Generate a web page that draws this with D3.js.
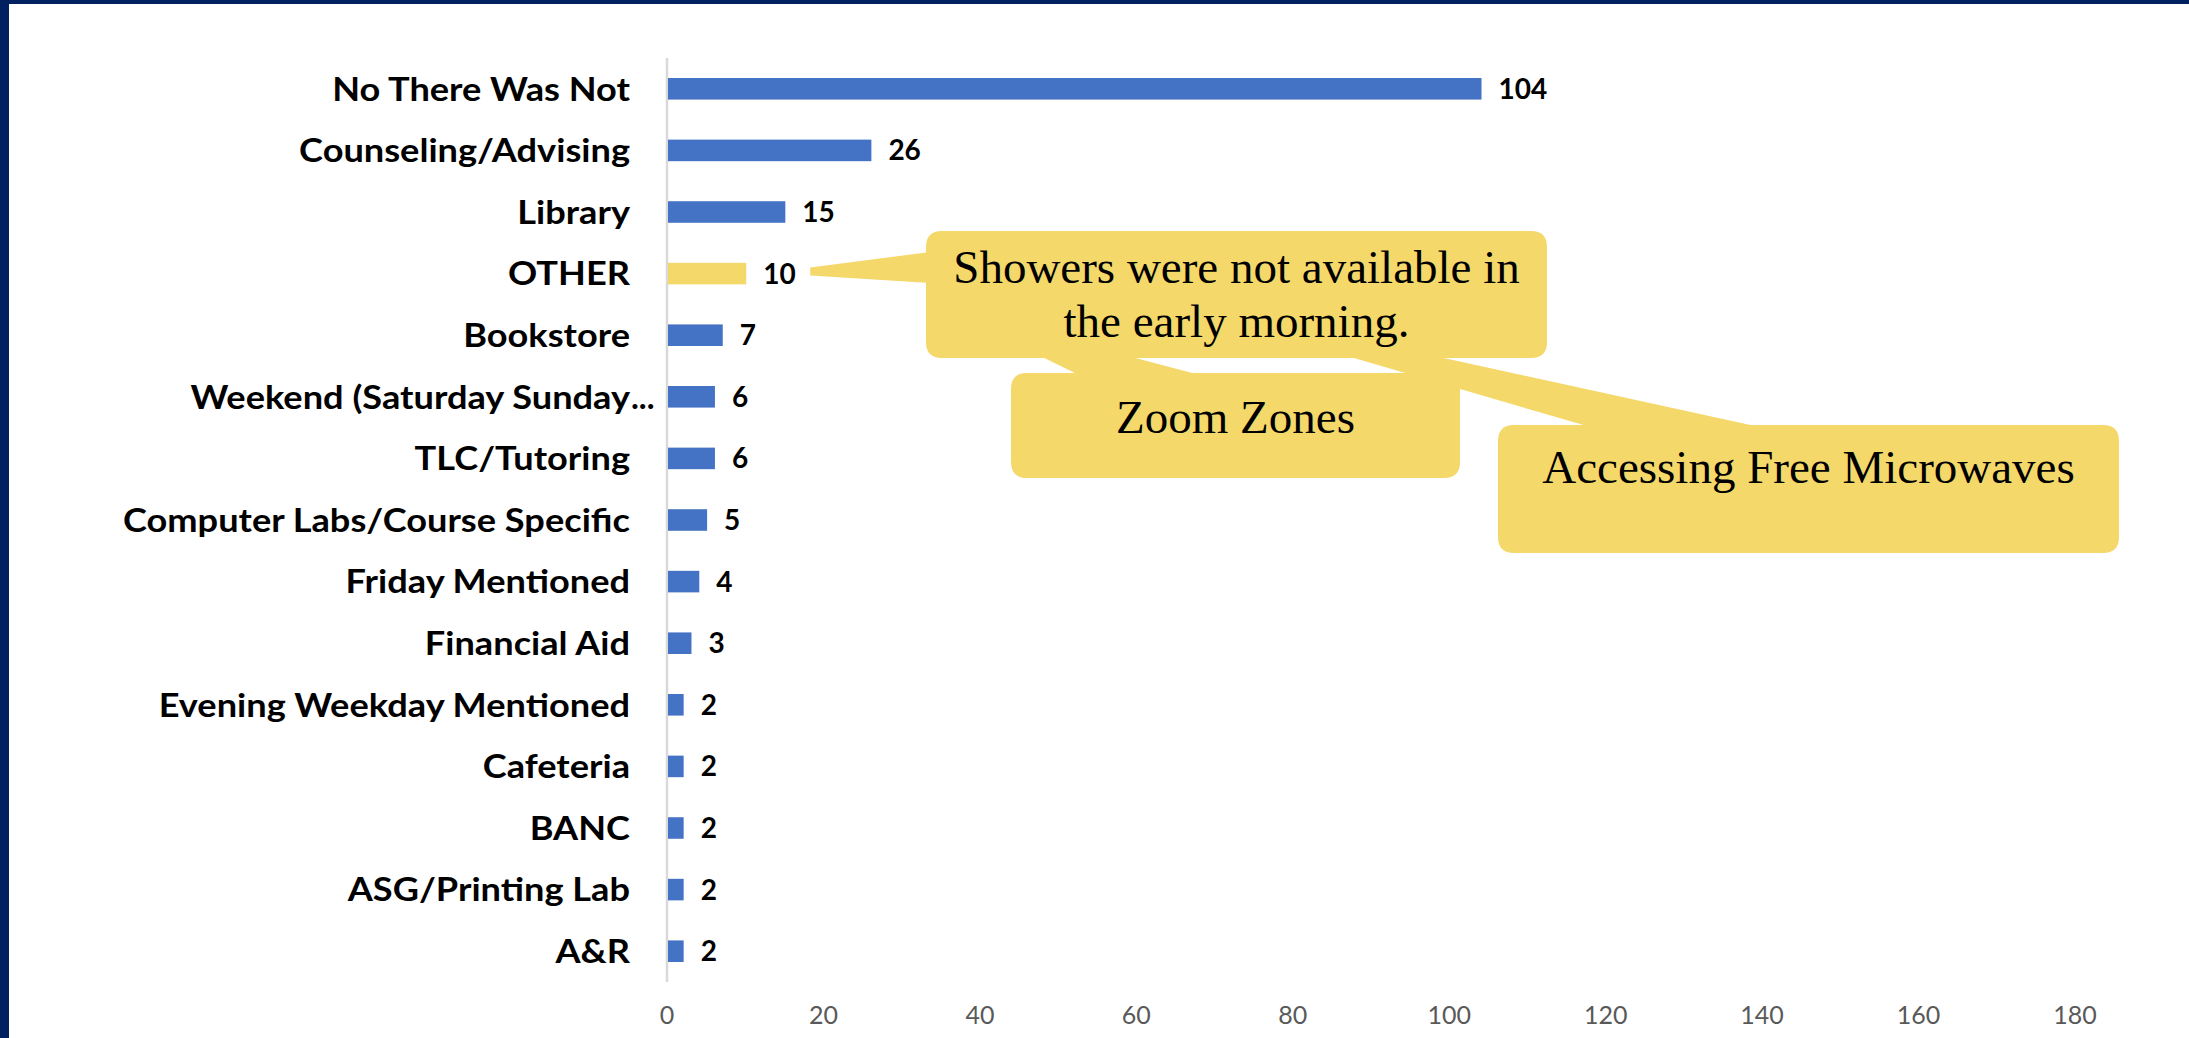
<!DOCTYPE html>
<html>
<head>
<meta charset="utf-8">
<script src="https://cdn.jsdelivr.net/npm/d3@7"></script>
<style>
  html, body { margin: 0; padding: 0; background: #ffffff; overflow: hidden; }
  svg { display: block; }
</style>
</head>
<body>
<svg id="chart" width="2189" height="1038"></svg>
<script>
// Survey responses: areas where services were not available when needed
const categories = [
  "No There Was Not",
  "Counseling/Advising",
  "Library",
  "OTHER",
  "Bookstore",
  "Weekend (Saturday Sunday...",
  "TLC/Tutoring",
  "Computer Labs/Course Specific",
  "Friday Mentioned",
  "Financial Aid",
  "Evening Weekday Mentioned",
  "Cafeteria",
  "BANC",
  "ASG/Printing Lab",
  "A&R"
];
const counts = [104, 26, 15, 10, 7, 6, 6, 5, 4, 3, 2, 2, 2, 2, 2];
const highlighted = ["OTHER"];
const xTicks = [0, 20, 40, 60, 80, 100, 120, 140, 160, 180];

// Write-in answers grouped under OTHER
const otherResponses = [
  ["Showers were not available in", "the early morning."],
  ["Zoom Zones"],
  ["Accessing Free Microwaves"]
];

// ---- layout ----
const W = 2189, H = 1038;
const plot = { left: 667, right: 2075, top: 58, bottom: 982 };
const COLORS = { bar: "#4472C4", highlight: "#F4D86A", axis: "#D9D9D9", tick: "#595959", frame: "#002060", note: "#F4D86A" };

const svg = d3.select("#chart");
svg.append("rect").attr("width", W).attr("height", H).attr("fill", "#ffffff");

const x = d3.scaleLinear().domain([0, 180]).range([plot.left, plot.right]);
const y = d3.scaleBand().domain(categories).range([plot.top, plot.bottom])
  .paddingInner(0.65).paddingOuter(0.325);

const rows = categories.map((c, i) => ({ name: c, value: counts[i] }));

// vertical category axis line
svg.append("line")
  .attr("x1", x(0)).attr("x2", x(0))
  .attr("y1", plot.top).attr("y2", plot.bottom)
  .attr("stroke", COLORS.axis).attr("stroke-width", 2.5);

// bars
svg.append("g").selectAll("rect").data(rows).join("rect")
  .attr("x", x(0) + 1)
  .attr("y", d => y(d.name))
  .attr("width", d => x(d.value) - x(0))
  .attr("height", y.bandwidth())
  .attr("fill", d => highlighted.includes(d.name) ? COLORS.highlight : COLORS.bar);

// value labels
svg.append("g").selectAll("text").data(rows).join("text")
  .attr("x", d => x(d.value) + 18)
  .attr("y", d => y(d.name) + y.bandwidth() / 2)
  .attr("dy", "0.36em")
  .attr("font-family", "Lato, 'Open Sans', sans-serif")
  .attr("font-weight", 700)
  .attr("font-size", 28)
  .attr("fill", "#000")
  .text(d => d.value);

// category labels (long labels end with an ellipsis that hangs past the column)
const labelRight = x(0) - 37;
const catG = svg.append("g")
  .attr("font-family", "Lato, 'Open Sans', sans-serif")
  .attr("font-weight", 700)
  .attr("font-size", 33)
  .attr("fill", "#000");
const catText = catG.selectAll("text.cat").data(rows).join("text")
  .attr("class", "cat")
  .attr("x", labelRight)
  .attr("y", d => y(d.name) + y.bandwidth() / 2)
  .attr("dy", "0.36em")
  .attr("text-anchor", "end")
  .text(d => d.name.endsWith("...") ? d.name.slice(0, -3) : d.name);

// fit the label column so the longest full label spans 507px
const refNode = catText.filter(d => d.name === "Computer Labs/Course Specific").node();
const fit = 507 / refNode.getComputedTextLength();
catText.each(function () {
  const w = this.getComputedTextLength();
  d3.select(this).attr("textLength", w * fit).attr("lengthAdjust", "spacingAndGlyphs");
});
catG.selectAll("text.ell").data(rows.filter(d => d.name.endsWith("..."))).join("text")
  .attr("class", "ell")
  .attr("x", labelRight + 1)
  .attr("y", d => y(d.name) + y.bandwidth() / 2)
  .attr("dy", "0.36em")
  .text("...");

// horizontal value axis labels (no line, no ticks)
svg.append("g").selectAll("text").data(xTicks).join("text")
  .attr("x", d => x(d))
  .attr("y", 1024)
  .attr("text-anchor", "middle")
  .attr("font-family", "Lato, 'Open Sans', sans-serif")
  .attr("font-size", 25)
  .attr("fill", COLORS.tick)
  .text(d => d);

// ---- callouts for the OTHER responses ----
const otherY = y("OTHER") + y.bandwidth() / 2;
const otherTipX = x(counts[categories.indexOf("OTHER")]) + 65;

const boxes = [
  { x0: 926, y0: 231, x1: 1547, y1: 358, baselines: [283, 337] },
  { x0: 1011, y0: 373, x1: 1460, y1: 478, baselines: [433] },
  { x0: 1498, y0: 425, x1: 2119, y1: 553, baselines: [483] }
];
// pointer wedges: base points on the box edge and the tip
const pointers = [
  [[930, 252], [otherTipX, otherY - 6], [otherTipX, otherY + 2], [930, 283]],
  [[1077, 374], [935, 305], [1196, 374]],
  [[1587, 426], [1083, 279], [1755, 426]]
];
const R = 16;
const roundRect = b => `M${b.x0 + R},${b.y0}H${b.x1 - R}Q${b.x1},${b.y0} ${b.x1},${b.y0 + R}V${b.y1 - R}Q${b.x1},${b.y1} ${b.x1 - R},${b.y1}H${b.x0 + R}Q${b.x0},${b.y1} ${b.x0},${b.y1 - R}V${b.y0 + R}Q${b.x0},${b.y0} ${b.x0 + R},${b.y0}Z`;

const notes = svg.append("g");
// draw back to front so the first note sits on top
[2, 1, 0].forEach(i => {
  const g = notes.append("g");
  g.append("path").attr("d", d3.line()(pointers[i]) + "Z").attr("fill", COLORS.note);
  g.append("path").attr("d", roundRect(boxes[i])).attr("fill", COLORS.note);
  g.selectAll("text").data(otherResponses[i]).join("text")
    .attr("x", (boxes[i].x0 + boxes[i].x1) / 2)
    .attr("y", (d, k) => boxes[i].baselines[k])
    .attr("text-anchor", "middle")
    .attr("font-family", "'Liberation Serif', 'Times New Roman', serif")
    .attr("font-size", 47)
    .attr("fill", "#000")
    .text(d => d);
});

// navy frame edges
svg.append("rect").attr("x", 0).attr("y", 0).attr("width", 9).attr("height", H).attr("fill", COLORS.frame);
svg.append("rect").attr("x", 0).attr("y", 0).attr("width", W).attr("height", 4).attr("fill", COLORS.frame);
</script>
</body>
</html>
